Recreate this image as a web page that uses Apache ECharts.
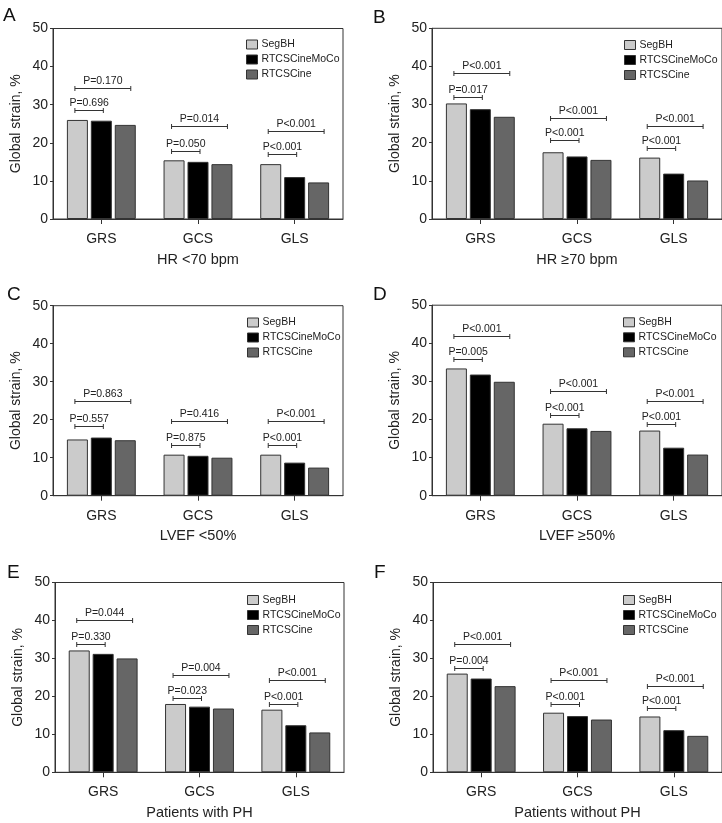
<!DOCTYPE html>
<html>
<head>
<meta charset="utf-8">
<script src="https://cdn.jsdelivr.net/npm/echarts@6/dist/echarts.min.js"></script>
<style>
html,body{margin:0;padding:0;background:#fff;}
#chart{width:722px;height:823px;}
</style>
</head>
<body>
<div id="chart"></div>
<script>
// ---------- data ----------
const categories = ['GRS', 'GCS', 'GLS'];
const seriesNames = ['SegBH', 'RTCSCineMoCo', 'RTCSCine'];
const yTicks = [0, 10, 20, 30, 40, 50];

// Panel A: HR <70 bpm
const A_seg  = [26.0, 15.4, 14.4];
const A_moco = [25.8, 15.0, 11.0];
const A_cine = [24.7, 14.4, 9.6];
const A_lvl1 = [28.6, 17.9, 17.0];
const A_lvl2 = [34.4, 24.4, 23.1];
const A_p1 = ['P=0.696', 'P=0.050', 'P<0.001'];
const A_p2 = ['P=0.170', 'P=0.014', 'P<0.001'];

// Panel B: HR >=70 bpm
const B_seg  = [30.3, 17.5, 16.1];
const B_moco = [28.8, 16.4, 11.9];
const B_cine = [26.8, 15.5, 10.1];
const B_lvl1 = [32.0, 20.6, 18.7];
const B_lvl2 = [38.4, 26.5, 24.5];
const B_p1 = ['P=0.017', 'P<0.001', 'P<0.001'];
const B_p2 = ['P<0.001', 'P<0.001', 'P<0.001'];

// Panel C: LVEF <50%
const C_seg  = [14.8, 10.8, 10.8];
const C_moco = [15.3, 10.5, 8.7];
const C_cine = [14.6, 10.0, 7.4];
const C_lvl1 = [18.4, 13.3, 13.3];
const C_lvl2 = [24.9, 19.7, 19.7];
const C_p1 = ['P=0.557', 'P=0.875', 'P<0.001'];
const C_p2 = ['P=0.863', 'P=0.416', 'P<0.001'];

// Panel D: LVEF >=50%
const D_seg  = [33.4, 18.9, 17.1];
const D_moco = [31.8, 17.7, 12.6];
const D_cine = [29.9, 17.0, 10.8];
const D_lvl1 = [36.0, 21.2, 18.8];
const D_lvl2 = [42.0, 27.4, 24.8];
const D_p1 = ['P=0.005', 'P<0.001', 'P<0.001'];
const D_p2 = ['P<0.001', 'P<0.001', 'P<0.001'];

// Panel E: Patients with PH
const E_seg  = [32.1, 18.0, 16.5];
const E_moco = [31.2, 17.3, 12.4];
const E_cine = [30.0, 16.8, 10.5];
const E_lvl1 = [33.9, 19.7, 18.1];
const E_lvl2 = [40.0, 25.6, 24.2];
const E_p1 = ['P=0.330', 'P=0.023', 'P<0.001'];
const E_p2 = ['P=0.044', 'P=0.004', 'P<0.001'];

// Panel F: Patients without PH
const F_seg  = [26.0, 15.7, 14.7];
const F_moco = [24.7, 14.8, 11.1];
const F_cine = [22.7, 13.9, 9.6];
const F_lvl1 = [27.6, 17.9, 16.9];
const F_lvl2 = [33.9, 24.2, 22.8];
const F_p1 = ['P=0.004', 'P<0.001', 'P<0.001'];
const F_p2 = ['P<0.001', 'P<0.001', 'P<0.001'];

const panelLetters = ['A', 'B', 'C', 'D', 'E', 'F'];
const panelTitles = ['HR <70 bpm', 'HR \u226570 bpm', 'LVEF <50%', 'LVEF \u226550%', 'Patients with PH', 'Patients without PH'];
const yName = 'Global strain, %';

// ---------- layout / style ----------
const FONT = '"Liberation Sans", Arial, Helvetica, sans-serif';
const TXT = '#222';
const LINE = '#333';
const barColors = ['#cbcbcb', '#000000', '#666666'];

const panels = [
  {seg:A_seg, moco:A_moco, cine:A_cine, l1:A_lvl1, l2:A_lvl2, p1:A_p1, p2:A_p2,
   grid:{left:53, top:28.5, width:290, height:190.5}, legend:{left:246, top:38.5}, letter:{left:3, top:6}},
  {seg:B_seg, moco:B_moco, cine:B_cine, l1:B_lvl1, l2:B_lvl2, p1:B_p1, p2:B_p2,
   grid:{left:432, top:28.3, width:291, height:190.7}, legend:{left:624, top:39}, letter:{left:373, top:8}},
  {seg:C_seg, moco:C_moco, cine:C_cine, l1:C_lvl1, l2:C_lvl2, p1:C_p1, p2:C_p2,
   grid:{left:53, top:305.7, width:290, height:190}, legend:{left:247, top:316.5}, letter:{left:7, top:285}},
  {seg:D_seg, moco:D_moco, cine:D_cine, l1:D_lvl1, l2:D_lvl2, p1:D_p1, p2:D_p2,
   grid:{left:432, top:305.2, width:291, height:190.5}, legend:{left:623, top:316.3}, letter:{left:373, top:285}},
  {seg:E_seg, moco:E_moco, cine:E_cine, l1:E_lvl1, l2:E_lvl2, p1:E_p1, p2:E_p2,
   grid:{left:55, top:582.5, width:289, height:189.8}, legend:{left:247, top:594}, letter:{left:7, top:563}},
  {seg:F_seg, moco:F_moco, cine:F_cine, l1:F_lvl1, l2:F_lvl2, p1:F_p1, p2:F_p2,
   grid:{left:433, top:582.5, width:290, height:189.8}, legend:{left:623, top:594}, letter:{left:374, top:563}}
];

const BAR_W = 21;
const BAR_GAP = '14%';
const STEP = BAR_W * 1.14;

const option = {
  animation: false,
  backgroundColor: '#fff',
  textStyle: {fontFamily: FONT},
  grid: [], xAxis: [], yAxis: [], series: [], legend: [], graphic: []
};

panels.forEach((p, i) => {
  option.grid.push(Object.assign({show: true, borderColor: LINE, borderWidth: 1, backgroundColor: 'transparent'}, p.grid));
  option.xAxis.push({
    type: 'category', gridIndex: i, data: categories, boundaryGap: true,
    axisLine: {show: true, lineStyle: {color: LINE, width: 1}},
    axisTick: {show: true, alignWithLabel: true, length: 5, lineStyle: {color: LINE}},
    axisLabel: {fontSize: 14, color: TXT, margin: 13, fontFamily: FONT},
    name: panelTitles[i], nameLocation: 'middle', nameGap: 33,
    nameTextStyle: {fontSize: 14.5, color: TXT, fontFamily: FONT}
  });
  option.yAxis.push({
    type: 'value', gridIndex: i, min: yTicks[0], max: yTicks[yTicks.length - 1], interval: 10,
    splitLine: {show: false},
    axisLine: {show: true, lineStyle: {color: LINE, width: 1}},
    axisTick: {show: true, length: 3, lineStyle: {color: LINE}},
    axisLabel: {fontSize: 14, color: TXT, margin: 5, fontFamily: FONT},
    name: yName, nameLocation: 'middle', nameGap: 30,
    nameTextStyle: {fontSize: 14, color: TXT, fontFamily: FONT}
  });
  const vals = [p.seg, p.moco, p.cine];
  seriesNames.forEach((nm, k) => {
    option.series.push({
      type: 'bar', name: nm, xAxisIndex: i, yAxisIndex: i, data: vals[k],
      barWidth: BAR_W, barGap: BAR_GAP, silent: true,
      itemStyle: {color: barColors[k], borderColor: LINE, borderWidth: 1}
    });
  });
  // significance brackets
  const bdata = [];
  categories.forEach((c, ci) => {
    bdata.push([ci, p.l1[ci], 1, ci]);
    bdata.push([ci, p.l2[ci], 2, ci]);
  });
  const labels1 = p.p1, labels2 = p.p2;
  option.series.push({
    type: 'custom', name: 'brackets' + i, xAxisIndex: i, yAxisIndex: i,
    data: bdata, encode: {x: 0, y: 1}, silent: true, z: 5,
    renderItem: function (params, api) {
      const ci = api.value(0), lvl = api.value(1), t = api.value(2);
      const pt = api.coord([ci, lvl]);
      const x1 = pt[0] - STEP - 2.5;
      const x2 = t === 1 ? pt[0] + 2 : pt[0] + STEP + 5.5;
      const y = Math.round(pt[1]) + 0.5;
      const label = t === 1 ? labels1[ci] : labels2[ci];
      const st = {stroke: LINE, lineWidth: 1};
      return {type: 'group', children: [
        {type: 'line', shape: {x1: x1, y1: y, x2: x2, y2: y}, style: st},
        {type: 'line', shape: {x1: x1, y1: y - 2.5, x2: x1, y2: y + 2.5}, style: st},
        {type: 'line', shape: {x1: x2, y1: y - 2.5, x2: x2, y2: y + 2.5}, style: st},
        {type: 'text', style: {text: label, x: (x1 + x2) / 2, y: y - 1.5, align: 'center', verticalAlign: 'bottom',
          fontSize: 10.5, fill: TXT, fontFamily: FONT}}
      ]};
    }
  });
  option.legend.push({
    data: seriesNames, orient: 'vertical', left: p.legend.left, top: p.legend.top,
    padding: 0, itemWidth: 11, itemHeight: 9, itemGap: 3, icon: 'rect', selectedMode: false,
    itemStyle: {borderColor: LINE, borderWidth: 1},
    textStyle: {fontSize: 10.5, color: TXT, lineHeight: 12, fontFamily: FONT, padding: [0, 0, 0, -1]}
  });
  option.graphic.push({
    type: 'text', left: p.letter.left, top: p.letter.top,
    style: {text: panelLetters[i], fontSize: 19, fill: '#111', fontFamily: FONT}
  });
});

const chart = echarts.init(document.getElementById('chart'), null, {renderer: 'canvas'});
chart.setOption(option);
</script>
</body>
</html>
